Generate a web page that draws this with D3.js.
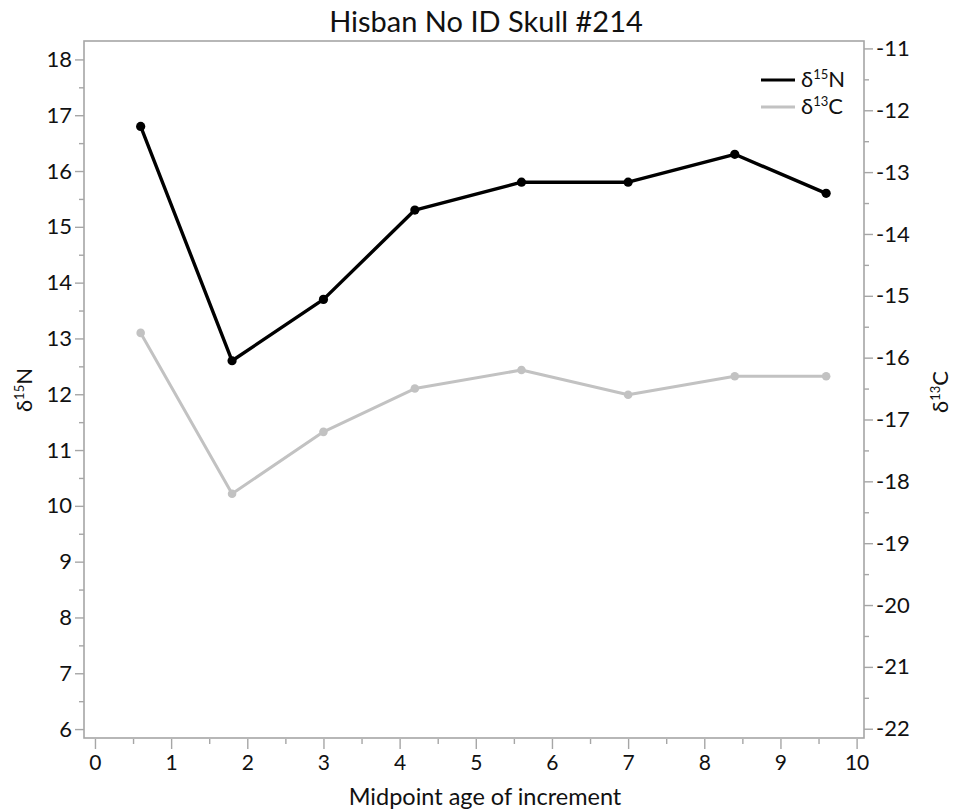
<!DOCTYPE html>
<html>
<head>
<meta charset="utf-8">
<script src="https://cdn.jsdelivr.net/npm/d3@7"></script>
<style>
  html, body { margin: 0; padding: 0; background: #fff; }
  svg { display: block; font-family: Lato, "Noto Sans", sans-serif; }
</style>
</head>
<body>
<svg id="chart" width="954" height="812"></svg>
<script>
// Midpoint age of each tooth increment (years)
const ages = [0.6, 1.8, 3.0, 4.2, 5.6, 7.0, 8.4, 9.6];
// Nitrogen isotope values (left axis)
const d15N = [16.8, 12.6, 13.7, 15.3, 15.8, 15.8, 16.3, 15.6];
// Carbon isotope values (right axis)
const d13C = [-15.6, -18.2, -17.2, -16.5, -16.2, -16.6, -16.3, -16.3];

const xTicks = [0, 1, 2, 3, 4, 5, 6, 7, 8, 9, 10];
const nTicks = [6, 7, 8, 9, 10, 11, 12, 13, 14, 15, 16, 17, 18];
const cTicks = [-22, -21, -20, -19, -18, -17, -16, -15, -14, -13, -12, -11];

const title = "Hisban No ID Skull #214";
const xTitle = "Midpoint age of increment";

const svg = d3.select("#chart");
const L = 84, R = 864, T = 41, B = 738;

const x = d3.scaleLinear().domain([-0.144, 10.097]).range([L, R]);
const yN = d3.scaleLinear().domain([5.84, 18.33]).range([B, T]);
const yC = d3.scaleLinear().domain([-22.15, -10.88]).range([B, T]);

const axisGrey = "#a6a6a6";
const lightGrey = "#c2c2c2";

function styleAxis(g, size) {
  g.select(".domain").remove();
  g.selectAll(".tick line").attr("stroke", axisGrey).attr("stroke-width", 1.4);
  g.selectAll(".tick text").attr("fill", "#111").style("font-size", size + "px")
    .style("font-family", "Lato, 'Noto Sans', sans-serif");
}

// half-unit minor ticks
const halves = (arr) => arr.slice(0, -1).map(v => v + 0.5);

// bottom axis
const gx = svg.append("g").attr("transform", `translate(0,${B + 1})`);
gx.call(d3.axisBottom(x).tickValues(halves(xTicks)).tickSize(5).tickFormat(""));
styleAxis(gx, 20);
const gx2 = svg.append("g").attr("transform", `translate(0,${B + 1})`);
gx2.call(d3.axisBottom(x).tickValues(xTicks).tickSize(10).tickPadding(6).tickFormat(d3.format("d")));
styleAxis(gx2, 21);

// left axis
const gl = svg.append("g").attr("transform", `translate(${L},0)`);
gl.call(d3.axisLeft(yN).tickValues(halves(nTicks)).tickSize(5).tickFormat(""));
styleAxis(gl, 22);
const gl2 = svg.append("g").attr("transform", `translate(${L},0)`);
gl2.call(d3.axisLeft(yN).tickValues(nTicks).tickSize(9).tickPadding(3).tickFormat(d3.format("d")));
styleAxis(gl2, 22);

// right axis
const gr = svg.append("g").attr("transform", `translate(${R},0)`);
gr.call(d3.axisRight(yC).tickValues(halves(cTicks)).tickSize(5).tickFormat(""));
styleAxis(gr, 22);
const gr2 = svg.append("g").attr("transform", `translate(${R},0)`);
gr2.call(d3.axisRight(yC).tickValues(cTicks).tickSize(9).tickPadding(3)
  .tickFormat(d => d3.format("d")(d).replace("−", "-")));
styleAxis(gr2, 22);

// plot frame
svg.append("rect")
  .attr("x", L).attr("y", T).attr("width", R - L).attr("height", B - T)
  .attr("fill", "none").attr("stroke", axisGrey).attr("stroke-width", 1.6);

// series
const dataC = ages.map((a, i) => ({ a, v: d13C[i] }));
const dataN = ages.map((a, i) => ({ a, v: d15N[i] }));

function drawSeries(data, y, color, width, r) {
  const line = d3.line().x(d => x(d.a)).y(d => y(d.v));
  svg.append("path").datum(data).attr("d", line)
    .attr("fill", "none").attr("stroke", color).attr("stroke-width", width)
    .attr("stroke-linejoin", "round");
  svg.append("g").selectAll("circle").data(data).join("circle")
    .attr("cx", d => x(d.a)).attr("cy", d => y(d.v)).attr("r", r).attr("fill", color);
}
drawSeries(dataC, yC, lightGrey, 3, 4.3);
drawSeries(dataN, yN, "#000", 3.4, 4.6);

// legend
const legend = svg.append("g");
const legItems = [
  { color: "#000", mass: "15", el: "N", y: 80 },
  { color: lightGrey, mass: "13", el: "C", y: 107 }
];
legItems.forEach(it => {
  legend.append("line").attr("x1", 761).attr("x2", 795).attr("y1", it.y).attr("y2", it.y)
    .attr("stroke", it.color).attr("stroke-width", 3.2);
  const t = legend.append("text").attr("x", 801).attr("y", it.y + 7)
    .style("font-size", "22px").attr("fill", "#111");
  t.append("tspan").text("δ");
  t.append("tspan").text(it.mass).style("font-size", "13px").attr("dy", -8);
  t.append("tspan").text(it.el).attr("dy", 8);
});

// title
svg.append("text").attr("x", 486).attr("y", 32).attr("text-anchor", "middle")
  .style("font-size", "29px").attr("fill", "#111").text(title);

// x title
svg.append("text").attr("x", 485).attr("y", 805).attr("text-anchor", "middle")
  .style("font-size", "23.5px").attr("fill", "#111").text(xTitle);

// y titles
function yTitle(cx, cy, mass, el) {
  const t = svg.append("text")
    .attr("transform", `translate(${cx},${cy}) rotate(-90)`)
    .attr("text-anchor", "middle").style("font-size", "22px").attr("fill", "#111");
  t.append("tspan").text("δ");
  t.append("tspan").text(mass).style("font-size", "13px").attr("dy", -8);
  t.append("tspan").text(el).attr("dy", 8);
}
yTitle(32, 390, "15", "N");
yTitle(948, 392, "13", "C");
</script>
</body>
</html>
